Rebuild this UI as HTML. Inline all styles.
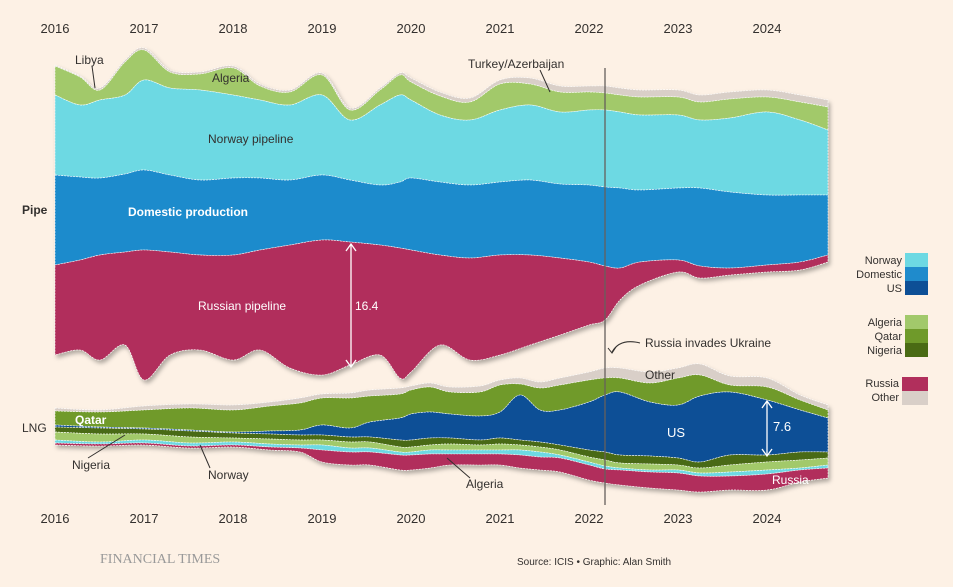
<!DOCTYPE html>
<html><head><meta charset="utf-8"><style>
body{margin:0;background:#fdf1e5;}
svg{display:block;font-family:"Liberation Sans",sans-serif;}
</style></head><body>
<svg id="s" width="953" height="587" viewBox="0 0 953 587">
<defs><filter id="sh" x="-5%" y="-5%" width="110%" height="120%"><feDropShadow dx="2" dy="3" stdDeviation="2" flood-color="#000" flood-opacity="0.3"/></filter></defs>
<g id="pipe" filter="url(#sh)"></g>
<g id="lng" filter="url(#sh)"></g>
<g font-size="13" fill="#33302e">
<text x="55" y="33" text-anchor="middle">2016</text><text x="144" y="33" text-anchor="middle">2017</text><text x="233" y="33" text-anchor="middle">2018</text><text x="322" y="33" text-anchor="middle">2019</text><text x="411" y="33" text-anchor="middle">2020</text><text x="500" y="33" text-anchor="middle">2021</text><text x="589" y="33" text-anchor="middle">2022</text><text x="678" y="33" text-anchor="middle">2023</text><text x="767" y="33" text-anchor="middle">2024</text>
<text x="55" y="523" text-anchor="middle">2016</text><text x="144" y="523" text-anchor="middle">2017</text><text x="233" y="523" text-anchor="middle">2018</text><text x="322" y="523" text-anchor="middle">2019</text><text x="411" y="523" text-anchor="middle">2020</text><text x="500" y="523" text-anchor="middle">2021</text><text x="589" y="523" text-anchor="middle">2022</text><text x="678" y="523" text-anchor="middle">2023</text><text x="767" y="523" text-anchor="middle">2024</text>
<text x="22" y="214" font-weight="bold" font-size="12">Pipe</text>
<text x="22" y="432" font-size="12">LNG</text>
<text x="75" y="64" font-size="12">Libya</text>
<text x="212" y="82" font-size="12">Algeria</text>
<text x="208" y="143" font-size="12">Norway pipeline</text>
<text x="468" y="68" font-size="12">Turkey/Azerbaijan</text>
<text x="645" y="347" font-size="12">Russia invades Ukraine</text>
<text x="645" y="379" font-size="12">Other</text>
<text x="72" y="469" font-size="12">Nigeria</text>
<text x="208" y="479" font-size="12">Norway</text>
<text x="466" y="488" font-size="12">Algeria</text>
<text x="128" y="216" font-size="12" font-weight="bold" fill="#fff">Domestic production</text>
<text x="198" y="310" font-size="12" fill="#fff">Russian pipeline</text>
<text x="355" y="310" font-size="12" fill="#fff">16.4</text>
<text x="667" y="437" font-size="13" fill="#fff">US</text>
<text x="773" y="431" font-size="13" fill="#fff">7.6</text>
<text x="772" y="484" font-size="12" fill="#fff">Russia</text>
<text x="75" y="424" font-size="12" fill="#fff" font-weight="bold">Qatar</text>
<g font-size="11" text-anchor="end">
<text x="902" y="264">Norway</text><text x="902" y="278">Domestic</text><text x="902" y="292">US</text>
<text x="902" y="326">Algeria</text><text x="902" y="340">Qatar</text><text x="902" y="354">Nigeria</text>
<text x="899" y="387">Russia</text><text x="899" y="401">Other</text>
</g>
<rect x="905" y="253" width="23" height="14" fill="#6dd9e3"/><rect x="905" y="267" width="23" height="14" fill="#1f8bcc"/><rect x="905" y="281" width="23" height="14" fill="#0d4f96"/>
<rect x="905" y="315" width="23" height="14" fill="#a2c96b"/><rect x="905" y="329" width="23" height="14" fill="#6f9a2a"/><rect x="905" y="343" width="23" height="14" fill="#4a6b14"/>
<rect x="902" y="377" width="26" height="14" fill="#b12f5c"/><rect x="902" y="391" width="26" height="14" fill="#d9cfc8"/>
<text x="100" y="563" font-family="Liberation Serif,serif" font-size="14" fill="#999">FINANCIAL TIMES</text>
<text x="517" y="565" font-size="10">Source: ICIS • Graphic: Alan Smith</text>
</g>
<line x1="605" y1="68" x2="605" y2="505" stroke="#66605c" stroke-width="1.3"/>
<g stroke="#fff" stroke-width="1.3" fill="none">
<line x1="351" y1="245" x2="351" y2="366"/><path d="M346 251 L351 244 L356 251 M346 360 L351 367 L356 360"/>
<line x1="767" y1="402" x2="767" y2="455"/><path d="M762 408 L767 401 L772 408 M762 449 L767 456 L772 449"/>
</g>
<g stroke="#33302e" stroke-width="1" fill="none">
<path d="M640 343 Q620 338 612 352"/><path d="M608 348 L612 353 L616 347"/>
<line x1="92" y1="66" x2="95" y2="88"/><line x1="540" y1="70" x2="550" y2="92"/>
<line x1="88" y1="458" x2="125" y2="435"/><line x1="210" y1="468" x2="200" y2="445"/><line x1="470" y1="478" x2="447" y2="458"/>
</g>
</svg>
<script>
function sm(xs,ys){let p=xs.map((x,i)=>[x,ys[i]]);let d="M"+p[0];for(let i=0;i<p.length-1;i++){let a=p[Math.max(0,i-1)],b=p[i],c=p[i+1],e=p[Math.min(p.length-1,i+2)];d+=" C"+(b[0]+(c[0]-a[0])/6)+","+(b[1]+(c[1]-a[1])/6)+" "+(c[0]-(e[0]-b[0])/6)+","+(c[1]-(e[1]-b[1])/6)+" "+c;}return d;}
function band(xs,top,bot,fill,g){let rx=xs.slice().reverse(),rb=bot.slice().reverse();let d=sm(xs,top)+" L"+sm(rx,rb).slice(1)+" Z";let el=document.createElementNS("http://www.w3.org/2000/svg","path");el.setAttribute("d",d);el.setAttribute("fill",fill);el.setAttribute("stroke","#fff");el.setAttribute("stroke-width","0.6");el.setAttribute("stroke-dasharray","2 1");g.appendChild(el);}
const PX=[55,80,100,125,144,170,200,233,260,290,322,350,380,400,411,440,470,500,530,560,589,605,620,640,678,700,730,767,800,828];
const oth=[65,76,88,60,48,70,72,66,84,90,73,108,88,73,78,92,98,80,78,86,86,86,88,90,90,95,92,90,95,100];
const lg=[66,77,90,62,50,72,74,68,86,92,75,110,90,75,82,96,102,84,84,92,92,93,95,97,97,102,99,97,102,107];
const cy=[95,105,100,95,80,88,90,95,100,105,95,120,105,95,100,115,120,110,105,112,110,110,112,115,115,120,118,112,120,130];
const dm=[175,177,178,174,170,175,180,178,178,180,175,180,185,182,178,182,185,182,180,184,185,187,188,190,188,188,192,195,195,195];
const ru=[265,260,255,252,250,252,255,255,250,245,240,242,245,248,250,255,258,255,255,258,262,266,268,262,260,266,268,265,262,255];
const rb=[355,350,360,345,380,355,350,360,350,368,375,365,355,378,372,345,360,355,345,335,325,320,300,285,272,278,275,272,270,262];
const P=document.getElementById("pipe");
band(PX,oth,lg,"#d9cfc8",P);band(PX,lg,cy,"#a2c96b",P);band(PX,cy,dm,"#6dd9e3",P);band(PX,dm,ru,"#1f8bcc",P);band(PX,ru,rb,"#b12f5c",P);
const LX=[55,100,144,190,233,270,300,322,350,370,400,411,430,450,480,500,520,540,560,589,605,620,650,678,700,730,767,800,828];
const o=[408,410,406,404,405,402,398,394,393,390,388,386,383,387,386,380,378,382,378,372,368,368,372,368,364,376,378,395,405];
const q=[411,412,410,408,410,406,403,398,398,396,394,390,387,392,392,385,384,388,385,380,378,378,383,378,375,385,387,400,410];
const u=[425,427,428,430,432,431,430,425,428,422,418,414,412,414,416,412,395,410,410,402,395,392,402,405,396,392,400,410,418];
const n=[427,428,429,431,433,434,435,435,437,437,440,440,438,438,440,438,440,442,445,450,452,455,456,458,462,455,455,452,452];
const al=[432,434,434,437,438,439,440,440,442,442,447,447,445,444,445,444,445,447,450,457,460,463,464,465,468,465,462,460,458];
const nw=[440,442,440,443,442,444,445,445,448,448,452,452,450,450,450,450,450,452,455,462,466,468,470,470,473,472,470,468,465];
const r=[443,444,443,446,445,447,448,450,452,452,455,455,454,454,454,454,455,457,458,465,469,470,472,473,476,476,474,470,468];
const r2=[445,446,445,448,447,450,452,462,465,465,470,470,468,465,465,465,468,470,472,480,483,485,488,490,492,490,490,482,478];
const L=document.getElementById("lng");
band(LX,o,q,"#d9cfc8",L);band(LX,q,u,"#6f9a2a",L);band(LX,u,n,"#0d4f96",L);band(LX,n,al,"#4a6b14",L);band(LX,al,nw,"#a2c96b",L);band(LX,nw,r,"#6dd9e3",L);band(LX,r,r2,"#b12f5c",L);
</script>
</body></html>
